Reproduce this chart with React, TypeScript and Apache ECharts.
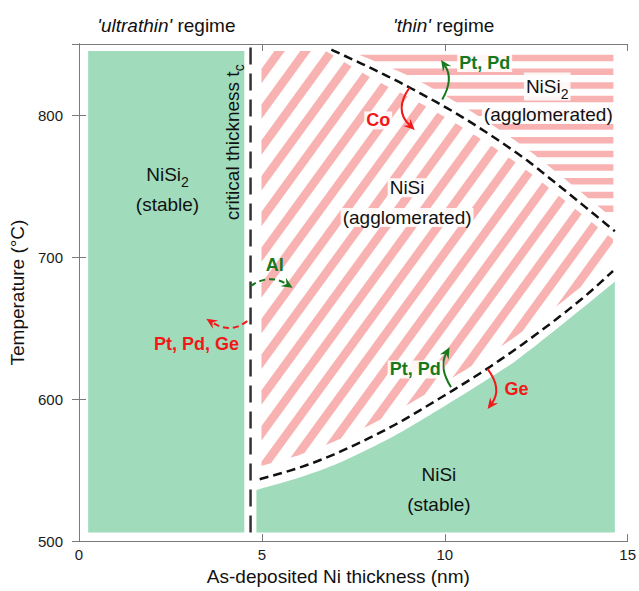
import React, { useEffect, useRef } from 'react';
import * as echarts from 'echarts';

// ---------- axes ----------
const xMin = 0, xMax = 15, xInterval = 5;
const yMin = 500, yMax = 850, yInterval = 100;

// ---------- regions (x: nm, T: °C) ----------
const ultrathinX = [0.25, 4.52];
const ultrathinT = [506, 845];
const criticalThickness = 4.69;
const criticalT = [506, 850];

const stableTopX = [4.85, 6, 7.1, 8.5, 9.7, 11.4, 12.2, 13.75, 14.65];
const stableTopT = [536, 544.6, 555, 572.5, 590.5, 617.7, 632, 663.8, 682.7];
const stableBottomT = 506;

const lowerBoundX = [4.94, 6, 7.1, 8.5, 9.7, 11.1, 12.5, 13.75, 14.6];
const lowerBoundT = [543.6, 551.5, 562.5, 580, 598, 620.4, 645.6, 670.6, 690.2];

const upperBoundX = [6.9, 8, 9.1, 10.5, 12.0, 13.1, 14.65];
const upperBoundT = [846, 832.8, 818.5, 798.2, 772.7, 750.7, 718.2];

const niSiAggTopX = [4.99, 6.75, 8, 9.1, 10.5, 12.0, 13.1, 14.6];
const niSiAggTopT = [845, 845, 826, 811.5, 791, 765.5, 743.5, 712.5];
const niSiAggBottomX = [4.99, 6, 7.1, 8.5, 9.7, 11.1, 12.5, 13.75, 14.6];
const niSiAggBottomT = [553, 560.5, 571.5, 589, 607, 629.4, 654.6, 679.6, 699];

const niSi2AggEdgeX = [7.6, 9.1, 10.5, 12.0, 13.1, 14.61];
const niSi2AggEdgeT = [843, 826.5, 806, 780.7, 758.7, 727];
const niSi2AggTopT = 843;

// ---------- annotations ----------
// arrows: start, control, end (data coords)
const arrowStart = [[9.93, 810.9], [9.04, 819.4], [4.69, 679.5], [4.6, 655], [10.17, 608.4], [11.17, 621.2]];
const arrowCtrl = [[10.25, 825.2], [8.6, 803.6], [5.19, 688.6], [4.15, 645.6], [9.83, 622.3], [11.58, 607.1]];
const arrowEnd = [[9.9, 838.8], [9.18, 789.5], [5.84, 678.3], [3.48, 656.6], [10.13, 636.4], [11.17, 593]];
const arrowKind = ['green', 'red', 'greenDash', 'redDash', 'green', 'red'];

const labelText = [
  "{it|'ultrathin'}{n| regime}",
  "{it|'thin'}{n| regime}",
  '{n|NiSi}{s|2}',
  '(stable)',
  '{n|critical thickness t}{s|c}',
  'NiSi',
  '(agglomerated)',
  '{n|NiSi}{s|2}',
  '(agglomerated)',
  'NiSi',
  '(stable)',
  'Co',
  'Pt, Pd',
  'Al',
  'Pt, Pd, Ge',
  'Pt, Pd',
  'Ge',
];
const labelX = [2.39, 9.97, 2.42, 2.42, 4.19, 8.97, 8.97, 12.8, 12.83, 9.84, 9.84, 8.18, 11.09, 5.35, 3.21, 9.19, 11.96];
const labelT = [863.3, 863.3, 757.8, 737.3, 780.8, 748.7, 727.8, 820, 800.3, 546.8, 525.8, 796.2, 836.7, 694.2, 639, 620.9, 606.9];
const labelKind = ['title', 'title', 'region', 'region', 'vertical', 'regionBg', 'regionBg', 'regionBg', 'regionBg', 'region', 'region', 'redBg', 'greenBg', 'green', 'red', 'greenBg', 'red'];

const FONT = '"Liberation Sans", Arial, Helvetica, sans-serif';
const GREEN = '#a0dcbc';
const PINK = '#f8b2b2';
const ANN_GREEN = '#17791b';
const ANN_RED = '#f01818';

type Pt = number[];

function spline(pts: Pt[], seg = 10): Pt[] {
  if (pts.length < 3) return pts.slice();
  const out: Pt[] = [];
  const n = pts.length;
  for (let i = 0; i < n - 1; i++) {
    const p0 = pts[Math.max(0, i - 1)], p1 = pts[i], p2 = pts[i + 1], p3 = pts[Math.min(n - 1, i + 2)];
    for (let j = 0; j < seg; j++) {
      const t = j / seg, t2 = t * t, t3 = t2 * t;
      out.push([0, 1].map((d) =>
        0.5 * (2 * p1[d] + (-p0[d] + p2[d]) * t + (2 * p0[d] - 5 * p1[d] + 4 * p2[d] - p3[d]) * t2 + (-p0[d] + 3 * p1[d] - 3 * p2[d] + p3[d]) * t3)
      ));
    }
  }
  out.push(pts[n - 1]);
  return out;
}

function clipHalf(poly: Pt[], nx: number, ny: number, c: number, sign: number): Pt[] {
  const out: Pt[] = [];
  const n = poly.length;
  for (let i = 0; i < n; i++) {
    const a = poly[i], b = poly[(i + 1) % n];
    const fa = sign * (nx * a[0] + ny * a[1] - c);
    const fb = sign * (nx * b[0] + ny * b[1] - c);
    if (fa >= 0) out.push(a);
    if ((fa >= 0) !== (fb >= 0)) {
      const t = fa / (fa - fb);
      out.push([a[0] + (b[0] - a[0]) * t, a[1] + (b[1] - a[1]) * t]);
    }
  }
  return out;
}

function bands(poly: Pt[], nx: number, ny: number, pitch: number, width: number, phase: number): Pt[][] {
  const s = poly.map((p) => nx * p[0] + ny * p[1]);
  const smin = Math.min(...s), smax = Math.max(...s);
  const out: Pt[][] = [];
  const k0 = Math.floor((smin - phase) / pitch) - 1;
  for (let k = k0; phase + k * pitch <= smax; k++) {
    const lo = phase + k * pitch, hi = lo + width;
    let p = clipHalf(poly, nx, ny, lo, 1);
    if (p.length < 3) continue;
    p = clipHalf(p, nx, ny, hi, -1);
    if (p.length >= 3) out.push(p);
  }
  return out;
}

function renderItem(_params: any, api: any) {
  const c = (x: number, y: number): Pt => api.coord([x, y]);
  const curve = (xs: number[], ts: number[]) => spline(xs.map((x, i) => c(x, ts[i])));
  const children: any[] = [];

  // ultrathin NiSi2 stable
  const a = c(ultrathinX[0], ultrathinT[1]);
  const b = c(ultrathinX[1], ultrathinT[0]);
  children.push({ type: 'rect', shape: { x: a[0], y: a[1], width: b[0] - a[0], height: b[1] - a[1] }, style: { fill: GREEN } });

  // NiSi stable
  const last = stableTopX.length - 1;
  const stablePts = [
    c(stableTopX[0], stableBottomT),
    ...curve(stableTopX, stableTopT),
    c(stableTopX[last], stableBottomT),
  ];
  children.push({ type: 'polygon', shape: { points: stablePts }, style: { fill: GREEN } });

  // NiSi agglomerated (diagonal hatch)
  const diagPoly = [
    c(niSiAggTopX[0], niSiAggTopT[0]),
    ...curve(niSiAggTopX.slice(1), niSiAggTopT.slice(1)),
    ...curve(niSiAggBottomX, niSiAggBottomT).reverse(),
  ];
  const th = (54 * Math.PI) / 180;
  bands(diagPoly, Math.sin(th), Math.cos(th), 21, 8.5, 0).forEach((pts) =>
    children.push({ type: 'polygon', shape: { points: pts }, style: { fill: PINK } })
  );

  // NiSi2 agglomerated (horizontal hatch)
  const eLast = niSi2AggEdgeX.length - 1;
  const horPoly = [
    c(niSi2AggEdgeX[0], niSi2AggTopT),
    c(niSi2AggEdgeX[eLast], niSi2AggTopT),
    ...curve(niSi2AggEdgeX, niSi2AggEdgeT).reverse(),
  ];
  bands(horPoly, 0, 1, 13.7, 6.5, 54.75).forEach((pts) =>
    children.push({ type: 'polygon', shape: { points: pts }, style: { fill: PINK } })
  );

  // critical thickness line
  const ct0 = c(criticalThickness, criticalT[0]);
  const ct1 = c(criticalThickness, criticalT[1]);
  children.push({
    type: 'line',
    shape: { x1: ct0[0], y1: ct0[1], x2: ct1[0], y2: ct1[1] },
    style: { stroke: '#333', lineWidth: 2.5, lineDash: [17, 9] },
  });

  // boundaries
  children.push({
    type: 'polyline',
    shape: { points: curve(lowerBoundX, lowerBoundT) },
    style: { stroke: '#111', lineWidth: 2.5, lineDash: [9, 5], fill: 'none' },
  });
  children.push({
    type: 'polyline',
    shape: { points: curve(upperBoundX, upperBoundT) },
    style: { stroke: '#111', lineWidth: 2.5, lineDash: [9, 5], fill: 'none' },
  });

  // arrows
  arrowStart.forEach((st, i) => {
    const s = c(st[0], st[1]);
    const k = c(arrowCtrl[i][0], arrowCtrl[i][1]);
    const e = c(arrowEnd[i][0], arrowEnd[i][1]);
    const kind = arrowKind[i];
    const col = kind.indexOf('green') === 0 ? ANN_GREEN : ANN_RED;
    const dashed = kind.indexOf('Dash') > 0;
    const dx = e[0] - k[0], dy = e[1] - k[1];
    const L = Math.hypot(dx, dy);
    const ux = dx / L, uy = dy / L;
    const headLen = 11, headW = 5;
    const base = [e[0] - ux * headLen, e[1] - uy * headLen];
    const notch = [e[0] - ux * headLen * 0.65, e[1] - uy * headLen * 0.65];
    const left = [base[0] - uy * headW, base[1] + ux * headW];
    const right = [base[0] + uy * headW, base[1] - ux * headW];
    children.push({
      type: 'bezierCurve',
      shape: { x1: s[0], y1: s[1], cpx1: k[0], cpy1: k[1], x2: notch[0], y2: notch[1] },
      style: { stroke: col, lineWidth: 2, fill: 'none', lineDash: dashed ? [6, 4] : null },
    });
    children.push({ type: 'polygon', shape: { points: [e, left, notch, right] }, style: { fill: col } });
  });

  // labels
  labelText.forEach((txt, i) => {
    const p = c(labelX[i], labelT[i]);
    const kind = labelKind[i];
    const style: any = {
      text: txt,
      fontFamily: FONT,
      fontSize: 19,
      fill: '#111',
      align: 'center',
      verticalAlign: 'middle',
    };
    if (kind === 'green' || kind === 'greenBg') {
      style.fill = ANN_GREEN;
      style.fontWeight = 'bold';
      style.fontSize = 18;
    }
    if (kind === 'red' || kind === 'redBg') {
      style.fill = ANN_RED;
      style.fontWeight = 'bold';
      style.fontSize = 18;
    }
    if (kind.indexOf('Bg') > 0) {
      style.backgroundColor = 'rgba(255,255,255,0.88)';
      style.padding = [0, 2, 0, 2];
    }
    style.rich = {
      n: { fontFamily: FONT, fontSize: style.fontSize, fill: style.fill, lineHeight: 22 },
      it: { fontFamily: FONT, fontSize: style.fontSize, fill: style.fill, fontStyle: 'italic', lineHeight: 22 },
      s: { fontFamily: FONT, fontSize: 14, fill: style.fill, lineHeight: 28, verticalAlign: 'bottom' },
    };
    children.push({
      type: 'text',
      x: p[0],
      y: p[1],
      rotation: kind === 'vertical' ? Math.PI / 2 : 0,
      style,
    });
  });

  return { type: 'group', children };
}

const axisLineStyle = { color: '#7a7a7a', width: 1 };

const option: any = {
  animation: false,
  backgroundColor: '#ffffff',
  grid: { left: 79, right: 8, top: 44, bottom: 46, containLabel: false },
  xAxis: [
    {
      type: 'value',
      min: xMin,
      max: xMax,
      interval: xInterval,
      position: 'bottom',
      axisLine: { show: true, lineStyle: axisLineStyle },
      axisTick: { show: true, inside: true, length: 7, lineStyle: axisLineStyle },
      axisLabel: { fontSize: 15, color: '#1a1a1a', margin: 6, fontFamily: FONT },
      splitLine: { show: false },
      name: 'As-deposited Ni thickness (nm)',
      nameLocation: 'middle',
      nameGap: 24,
      nameTextStyle: { fontSize: 19, color: '#111', fontFamily: FONT, padding: [0, 30, 0, 0] },
    },
    {
      type: 'value',
      min: xMin,
      max: xMax,
      interval: xInterval,
      position: 'top',
      axisLine: { show: true, lineStyle: axisLineStyle },
      axisTick: { show: true, inside: true, length: 7, lineStyle: axisLineStyle },
      axisLabel: { show: false },
      splitLine: { show: false },
    },
  ],
  yAxis: [
    {
      type: 'value',
      min: yMin,
      max: yMax,
      interval: yInterval,
      position: 'left',
      axisLine: { show: true, lineStyle: axisLineStyle },
      axisTick: { show: true, inside: true, length: 7, lineStyle: axisLineStyle },
      axisLabel: { fontSize: 15, color: '#1a1a1a', margin: 16, fontFamily: FONT, showMaxLabel: false },
      splitLine: { show: false },
      name: 'Temperature (°C)',
      nameLocation: 'middle',
      nameGap: 47,
      nameRotate: 90,
      nameTextStyle: { fontSize: 19, color: '#111', fontFamily: FONT },
    },
    {
      type: 'value',
      min: yMin,
      max: yMax,
      interval: yInterval,
      position: 'right',
      axisLine: { show: true, lineStyle: axisLineStyle },
      axisTick: { show: true, inside: true, length: 7, lineStyle: axisLineStyle },
      axisLabel: { show: false },
      splitLine: { show: false },
    },
  ],
  series: [
    {
      type: 'custom',
      coordinateSystem: 'cartesian2d',
      xAxisIndex: 0,
      yAxisIndex: 0,
      silent: true,
      clip: false,
      data: [[0, 500]],
      renderItem,
    },
  ],
};

export default function App() {
  const ref = useRef<HTMLDivElement>(null);
  useEffect(() => {
    if (!ref.current) return;
    const chart = echarts.init(ref.current, null, { renderer: 'svg' });
    chart.setOption(option);
    return () => chart.dispose();
  }, []);
  return (
    <div
      ref={ref}
      style={{ position: 'fixed', left: 0, top: 0, width: 639, height: 591, background: '#fff' }}
    />
  );
}
